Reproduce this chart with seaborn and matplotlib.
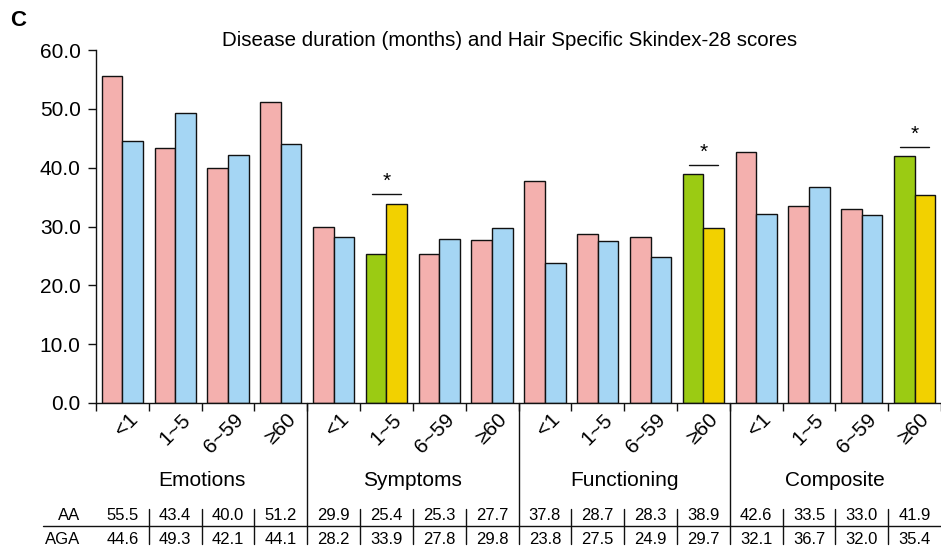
import matplotlib
matplotlib.use("Agg")
import matplotlib.pyplot as plt
import matplotlib.transforms as mtransforms
import seaborn as sns
import pandas as pd

domains = ['Emotions', 'Symptoms', 'Functioning', 'Composite']
durations = ['<1', '1~5', '6~59', '\u226560']
aa_scores = [55.5, 43.4, 40.0, 51.2,
             29.9, 25.4, 25.3, 27.7,
             37.8, 28.7, 28.3, 38.9,
             42.6, 33.5, 33.0, 41.9]
aga_scores = [44.6, 49.3, 42.1, 44.1,
              28.2, 33.9, 27.8, 29.8,
              23.8, 27.5, 24.9, 29.7,
              32.1, 36.7, 32.0, 35.4]
significant = [False, False, False, False,
               False, True, False, False,
               False, False, False, True,
               False, False, False, True]

PINK = '#F4B0AE'
BLUE = '#A5D6F4'
GREEN = '#9BCB13'
YELLOW = '#F2D100'
INK = '#111111'

slots = [f'{d} {t}' for d in domains for t in durations]
df = pd.DataFrame({
    'slot': slots * 2,
    'score': aa_scores + aga_scores,
    'group': ['AA'] * len(slots) + ['AGA'] * len(slots),
})

sns.set_style('ticks')
plt.rcParams['font.family'] = ['Liberation Sans', 'DejaVu Sans']
plt.rcParams['text.color'] = 'black'
plt.rcParams['xtick.color'] = INK
plt.rcParams['ytick.color'] = INK
plt.rcParams['xtick.labelcolor'] = 'black'
plt.rcParams['ytick.labelcolor'] = 'black'

fig = plt.figure(figsize=(9.41, 5.49), dpi=100)
ax = fig.add_axes([96 / 941, 1 - 403 / 549, 1 - 96 / 941, 353 / 549])

sns.barplot(data=df, x='slot', y='score', hue='group', order=slots,
            palette=[PINK, BLUE], width=0.78, saturation=1,
            edgecolor=INK, linewidth=1.0, legend=False, ax=ax)

# recolour the significant pairs
for i, sig in enumerate(significant):
    if sig:
        ax.containers[0][i].set_facecolor(GREEN)
        ax.containers[1][i].set_facecolor(YELLOW)

n = len(slots)
ax.set_xlim(-0.5, (941 - 96) / 53.33 - 0.5)
ax.set_ylim(0, 60)
ax.set_xlabel('')
ax.set_ylabel('')
sns.despine(ax=ax)
for s in ['left', 'bottom']:
    ax.spines[s].set_linewidth(1.0)
    ax.spines[s].set_color(INK)

ax.set_yticks([0, 10, 20, 30, 40, 50, 60])
ax.set_yticklabels([f'{v:.1f}' for v in [0, 10, 20, 30, 40, 50, 60]], fontsize=15)
ax.tick_params(axis='y', length=6, width=1.0, pad=5)

# boundary ticks (major) and rotated labels (minor)
ax.set_xticks([i - 0.5 for i in range(n + 1)])
ax.set_xticklabels([])
ax.tick_params(axis='x', which='major', length=6, width=1.0)
ax.set_xticks([i + 0.1 for i in range(n)], minor=True)
ax.set_xticklabels(durations * len(domains), minor=True, fontsize=15,
                   rotation=45, ha='right', va='top', rotation_mode='anchor')
ax.tick_params(axis='x', which='minor', length=0, pad=5)

trans = mtransforms.blended_transform_factory(ax.transData, ax.transAxes)

def yf(px):
    return (403 - px) / 353

# separators between domains, running through the table
for k in range(1, len(domains)):
    x = k * 4 - 0.5
    ax.plot([x, x], [0, yf(544)], transform=trans, color=INK,
            lw=1.0, clip_on=False)

# domain labels
for k, d in enumerate(domains):
    ax.text(k * 4 + 1.5, yf(481), d, transform=trans, ha='center',
            va='center', fontsize=15)

# table rows
ax.text(-0.8, yf(515), 'AA', transform=trans, ha='right', va='center', fontsize=12)
ax.text(-0.8, yf(539), 'AGA', transform=trans, ha='right', va='center', fontsize=12)
for i in range(n):
    ax.text(i, yf(515), f'{aa_scores[i]:.1f}', transform=trans,
            ha='center', va='center', fontsize=12)
    ax.text(i, yf(539), f'{aga_scores[i]:.1f}', transform=trans,
            ha='center', va='center', fontsize=12)
    if i % 4 != 0:
        ax.plot([i - 0.5, i - 0.5], [yf(509), yf(544)], transform=trans,
                color=INK, lw=1.0, clip_on=False)
ax.plot([-1.51, n], [yf(526), yf(526)], transform=trans, color=INK,
        lw=1.0, clip_on=False)

# significance markers
for i, sig in enumerate(significant):
    if sig:
        top = max(aa_scores[i], aga_scores[i]) + 1.6
        ax.plot([i - 0.28, i + 0.28], [top, top], color=INK, lw=1.0,
                clip_on=False)
        ax.text(i, top + 0.5, '*', ha='center', va='bottom', fontsize=15)

fig.text(0.5 * (222 + 797) / 941, 1 - 40 / 549,
         'Disease duration (months) and Hair Specific Skindex-28 scores',
         ha='center', va='center', fontsize=14.8)
fig.text(10 / 941, 1 - 20 / 549, 'C', ha='left', va='center',
         fontsize=16, fontweight='bold')

fig.savefig('out.png', dpi=100)
